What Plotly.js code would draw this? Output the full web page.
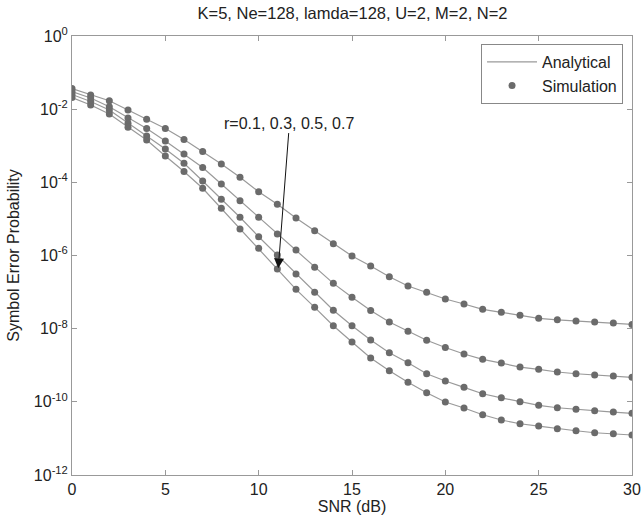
<!DOCTYPE html>
<html>
<head>
<meta charset="utf-8">
<script src="https://cdn.plot.ly/plotly-3.0.1.min.js"></script>
<style>html,body{margin:0;padding:0;background:#fff;}#chart{width:641px;height:520px;}</style>
</head>
<body>
<div id="chart"></div>
<script>
const snr = [0,1,2,3,4,5,6,7,8,9,10,11,12,13,14,15,16,17,18,19,20,21,22,23,24,25,26,27,28,29,30];

const ser_r01 = [3.67e-2,2.44e-2,1.70e-2,9.5e-3,5.28e-3,2.96e-3,1.48e-3,6.96e-4,3.17e-4,1.37e-4,5.54e-5,2.51e-5,1.06e-5,4.76e-6,2.09e-6,9.68e-7,5.16e-7,2.63e-7,1.46e-7,9.85e-8,6.46e-8,4.72e-8,3.38e-8,2.80e-8,2.32e-8,1.92e-8,1.75e-8,1.62e-8,1.52e-8,1.43e-8,1.31e-8];
const ser_r03 = [3.04e-2,2.02e-2,1.17e-2,5.73e-3,2.96e-3,1.35e-3,5.94e-4,2.54e-4,9.0e-5,3.15e-5,1.11e-5,3.86e-6,1.41e-6,4.75e-7,1.73e-7,7.23e-8,3.13e-8,1.52e-8,8.51e-9,4.83e-9,3.05e-9,2.03e-9,1.45e-9,1.15e-9,8.93e-10,7.73e-10,6.53e-10,5.86e-10,5.41e-10,5.07e-10,4.68e-10];
const ser_r05 = [2.52e-2,1.62e-2,9.5e-3,4.10e-3,1.85e-3,8.15e-4,3.31e-4,1.09e-4,3.44e-5,1.11e-5,3.26e-6,1.03e-6,3.12e-7,9.85e-8,3.19e-8,1.20e-8,4.89e-9,2.20e-9,1.17e-9,5.86e-10,3.71e-10,2.49e-10,1.66e-10,1.29e-10,1.01e-10,8.02e-11,6.90e-11,6.24e-11,5.71e-11,5.26e-11,4.85e-11];
const ser_r07 = [2.08e-2,1.30e-2,7.38e-3,3.19e-3,1.44e-3,5.25e-4,1.98e-4,6.87e-5,1.95e-5,5.30e-6,1.57e-6,4.27e-7,1.19e-7,3.83e-8,1.20e-8,4.31e-9,1.57e-9,7.08e-10,3.41e-10,1.77e-10,9.88e-11,6.76e-11,4.44e-11,3.18e-11,2.52e-11,2.18e-11,1.84e-11,1.62e-11,1.43e-11,1.34e-11,1.24e-11];

const seriesList = [ser_r01, ser_r03, ser_r05, ser_r07];
const yTickVals = [1, 1e-2, 1e-4, 1e-6, 1e-8, 1e-10, 1e-12];
const yTickText = ['10<sup>0</sup>', '10<sup>-2</sup>', '10<sup>-4</sup>', '10<sup>-6</sup>', '10<sup>-8</sup>', '10<sup>-10</sup>', '10<sup>-12</sup>'];
const xTickVals = [0,5,10,15,20,25,30];

const FONT = "Liberation Sans, Arial, Helvetica, sans-serif";
const traces = [];
seriesList.forEach((s, i) => {
  traces.push({
    x: snr, y: s, type: 'scatter', mode: 'lines',
    line: {color: '#9a9a9a', width: 1.2},
    name: 'Analytical', legendgroup: 'a', showlegend: i === 0,
    hoverinfo: 'skip'
  });
});
seriesList.forEach((s, i) => {
  traces.push({
    x: snr, y: s, type: 'scatter', mode: 'markers',
    marker: {color: '#6b6b6b', size: 7},
    name: 'Simulation', legendgroup: 'b', showlegend: i === 0
  });
});

const layout = {
  width: 641, height: 520,
  margin: {l: 72, r: 9, t: 36, b: 45},
  paper_bgcolor: '#fff', plot_bgcolor: '#fff',
  font: {family: FONT, size: 16, color: '#222'},
  title: {text: 'K=5, Ne=128, lamda=128, U=2, M=2, N=2', font: {family: FONT, size: 16.5, color: '#222'}, x: 0.55, xanchor: 'center', y: 0.975, yanchor: 'middle'},
  xaxis: {
    range: [0, 30], tickvals: xTickVals, ticks: 'inside', ticklen: 5, tickcolor: '#999',
    showline: true, linecolor: '#999', linewidth: 1, mirror: 'ticks', showgrid: false, zeroline: false,
    tickfont: {family: FONT, size: 16, color: '#222'},
    title: {text: 'SNR (dB)', font: {family: FONT, size: 16, color: '#222'}, standoff: 3}
  },
  yaxis: {
    type: 'log', range: [-12, 0], tickvals: yTickVals, ticktext: yTickText,
    ticks: 'inside', ticklen: 5, tickcolor: '#999',
    showline: true, linecolor: '#999', linewidth: 1, mirror: 'ticks', showgrid: false, zeroline: false,
    tickfont: {family: FONT, size: 16, color: '#222'},
    title: {text: 'Symbol Error Probability', font: {family: FONT, size: 16, color: '#222'}, standoff: 10}
  },
  legend: {
    x: 0.984, y: 0.982, xanchor: 'right', yanchor: 'top',
    bgcolor: '#fff', bordercolor: '#888', borderwidth: 1,
    font: {family: FONT, size: 16, color: '#222'},
    itemwidth: 50, tracegroupgap: 0
  },
  annotations: [{
    x: 11.05, y: -6.35, xref: 'x', yref: 'y',
    ax: 11.65, ay: -2.38, axref: 'x', ayref: 'y',
    text: 'r=0.1, 0.3, 0.5, 0.7', showarrow: true,
    arrowhead: 2, arrowsize: 2, arrowwidth: 1, arrowcolor: '#111',
    font: {family: FONT, size: 16, color: '#222'}
  }]
};

Plotly.newPlot('chart', traces, layout, {displayModeBar: false, staticPlot: true});
</script>
</body>
</html>
